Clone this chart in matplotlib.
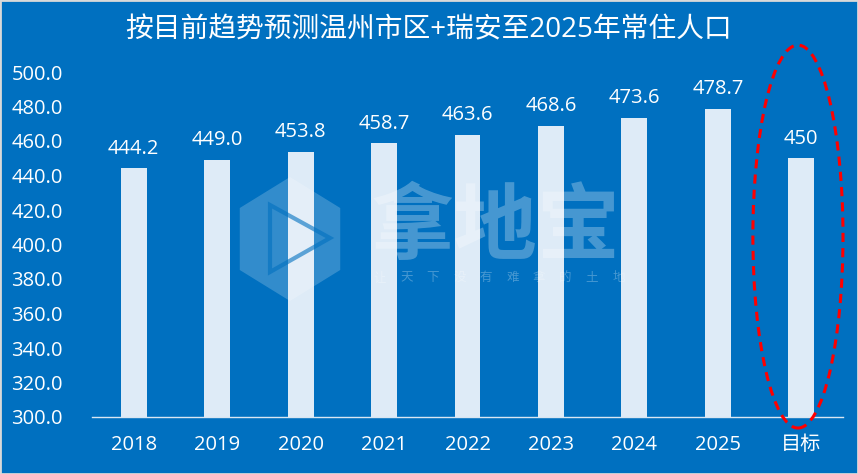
import matplotlib.pyplot as plt
from matplotlib.patches import Ellipse, Rectangle, Polygon
import numpy as np

plt.rcParams['font.family'] = ['Open Sans', 'Noto Sans CJK SC', 'DejaVu Sans']

# data
categories = ['2018', '2019', '2020', '2021', '2022', '2023', '2024', '2025', '目标']
values = [444.2, 449.0, 453.8, 458.7, 463.6, 468.6, 473.6, 478.7, 450]
labels = ['444.2', '449.0', '453.8', '458.7', '463.6', '468.6', '473.6', '478.7', '450']
yticks = [300, 320, 340, 360, 380, 400, 420, 440, 460, 480, 500]
title = '按目前趋势预测温州市区+瑞安至2025年常住人口'

bg = '#0070C0'
bar_col = '#DEEBF7'
W, H = 858, 474


def px(xp, yp):
    # pixel position (from top-left) to figure fraction
    return (xp / W, 1 - yp / H)


fig = plt.figure(figsize=(W / 100, H / 100), dpi=100, facecolor=bg)
ax = fig.add_axes([92 / W, 1 - 417 / H, 751 / W, 345 / H])
ax.set_facecolor(bg)

x = list(range(len(categories)))
ax.bar(x, values, width=0.31, color=bar_col, zorder=2)
for xi, v, lab in zip(x, values, labels):
    ax.annotate(lab, (xi, v), xytext=(0, 7), textcoords='offset points',
                ha='center', va='bottom', color='white', fontsize=14.5)

ax.set_xlim(-0.5, len(categories) - 0.5)
ax.set_ylim(300, 500)
ax.set_yticks(yticks)
ax.set_yticklabels(['%.1f' % t for t in yticks])
ax.set_xticks(x)
ax.set_xticklabels(categories)
ax.tick_params(axis='y', length=0, pad=21, colors='white', labelsize=14.5)
ax.tick_params(axis='x', length=0, pad=13, colors='white', labelsize=14.5)
for s in ['top', 'right', 'left']:
    ax.spines[s].set_visible(False)
ax.spines['bottom'].set_color('#D9E6F2')
ax.spines['bottom'].set_linewidth(1.0)

# red dashed ring round the target bar
ring = Ellipse((7.96, 404.6), 1.08, 222, fill=False, edgecolor='#FF0000',
               linestyle=(0, (3, 2)), linewidth=2.2, clip_on=False, zorder=5)
ax.add_patch(ring)

fig.text(0.5, 1 - 30 / H, title, ha='center', va='center',
         color='white', fontsize=20)

# faint watermark (logo + name)
ang = np.radians(np.arange(6) * 60 + 90)
hexv = [px(290 + 58 * np.cos(a), 239 - 62 * np.sin(a)) for a in ang]
fig.patches.append(Polygon(hexv, closed=True, transform=fig.transFigure,
                           facecolor='white', alpha=0.2, edgecolor='none'))
tri = [px(270, 205), px(270, 272), px(330, 238)]
fig.patches.append(Polygon(tri, closed=True, transform=fig.transFigure,
                           facecolor='none', edgecolor=bg, alpha=0.6, linewidth=3))
fig.text(496 / W, 1 - 228 / H, '拿地宝', ha='center', va='center',
         fontsize=60, fontweight='bold', color='white', alpha=0.28,
         family=['Noto Sans CJK SC'])
slogan = '让天下没有难拿的土地'
for i, ch in enumerate(slogan):
    fig.text((380 + i * 26.5) / W, 1 - 278 / H, ch, ha='center', va='center',
             fontsize=9, color='white', alpha=0.28, family=['Noto Sans CJK SC'])

# thin grey frame
fig.patches.append(Rectangle((0, 0), 1, 1, transform=fig.transFigure, fill=False,
                             edgecolor='#D9D9D9', linewidth=2))

fig.savefig('out.png', dpi=100, facecolor=bg)
